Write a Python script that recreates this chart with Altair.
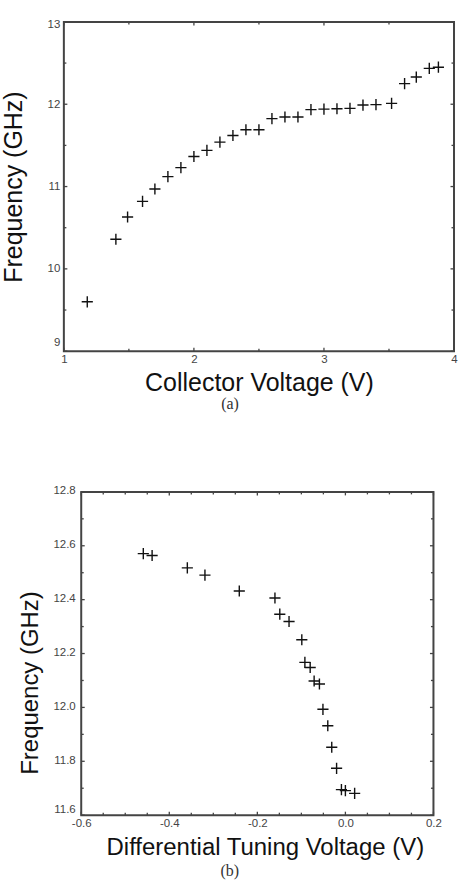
import altair as alt
import pandas as pd

# ---- panel (a): collector voltage sweep ----
a_voltage = [1.18, 1.40, 1.49, 1.605, 1.70, 1.80, 1.90, 2.00, 2.10, 2.20, 2.30, 2.40, 2.50,
             2.60, 2.70, 2.80, 2.90, 3.00, 3.10, 3.20, 3.30, 3.40, 3.52, 3.62, 3.71, 3.81, 3.88]
a_freq = [9.60, 10.36, 10.63, 10.82, 10.97, 11.12, 11.23, 11.365, 11.44, 11.54, 11.62, 11.69, 11.69,
          11.825, 11.845, 11.845, 11.935, 11.94, 11.945, 11.95, 11.99, 11.995, 12.01, 12.25, 12.33,
          12.435, 12.45]
a_x_labels = [1, 2, 3, 4]
a_x_minor = [1.5, 2.5, 3.5]
a_y_labels = [9, 10, 11, 12, 13]
a_y_minor = [9.5, 10.5, 11.5, 12.5]

# ---- panel (b): differential tuning voltage sweep ----
b_voltage = [-0.459, -0.439, -0.359, -0.319, -0.241, -0.160, -0.149, -0.128, -0.099, -0.092,
             -0.080, -0.071, -0.059, -0.051, -0.040, -0.031, -0.020, -0.009, 0.000, 0.021]
b_freq = [12.571, 12.564, 12.518, 12.491, 12.432, 12.406, 12.346, 12.319, 12.251, 12.167,
          12.148, 12.098, 12.087, 11.993, 11.932, 11.852, 11.774, 11.695, 11.691, 11.681]
b_x_labels = [-0.6, -0.4, -0.2, 0.0, 0.2]
b_x_minor = [-0.55, -0.5, -0.45, -0.35, -0.3, -0.25, -0.15, -0.1, -0.05, 0.05, 0.1, 0.15]
b_y_labels = [11.6, 11.8, 12.0, 12.2, 12.4, 12.6, 12.8]
b_y_minor = [11.7, 11.9, 12.1, 12.3, 12.5, 12.7]

FRAME = "#444444"
SANS = "Liberation Sans"


def tick_layers(vals, length, channel, scale, axis, X0, W, H):
    df = pd.DataFrame({channel: vals})
    base = alt.Chart(df).mark_rule(color=FRAME, strokeWidth=1.3)
    out = []
    if channel == "x":
        enc = alt.X("x:Q", scale=scale, axis=axis)
        out.append(base.encode(x=enc, y=alt.value(H), y2=alt.value(H - length)))
        out.append(base.encode(x=enc, y=alt.value(0), y2=alt.value(length)))
    else:
        enc = alt.Y("y:Q", scale=scale, axis=axis)
        out.append(base.encode(y=enc, x=alt.value(X0), x2=alt.value(X0 + length)))
        out.append(base.encode(y=enc, x=alt.value(W), x2=alt.value(W - length)))
    return out


def panel(xs, ys, xdom, ydom, xlab, xminor, ylab, yminor, X0, W, H, xtitle, ytitle,
          xlabel_expr, ylabel_expr, y_offset_cond, xkw, ykw, caption, cap_kw):
    # X0: left inset of the plot frame inside the view (view spans 0..W)
    xscale = alt.Scale(domain=xdom, nice=False, zero=False, range=[X0, W])
    yscale = alt.Scale(domain=ydom, nice=False, zero=False)
    xaxis = alt.Axis(values=xlab, labelExpr=xlabel_expr, domain=False, ticks=False, grid=False,
                     labelFont=SANS, labelFontSize=11.5, labelColor="#444444",
                     labelFlush=False, labelOverlap=False,
                     title=xtitle, titleFont=SANS, titleFontWeight="normal",
                     titleColor="#111111", **xkw)
    yaxis = alt.Axis(values=ylab, labelExpr=ylabel_expr, domain=False, ticks=False, grid=False,
                     labelFont=SANS, labelFontSize=11.5, labelColor="#444444",
                     labelFlush=False, labelOverlap=False, labelOffset=y_offset_cond,
                     offset=-X0,
                     title=ytitle, titleFont=SANS, titleFontWeight="normal",
                     titleColor="#111111", **ykw)
    frame = alt.Chart(pd.DataFrame({"f": [0]})).mark_rect(
        filled=False, stroke=FRAME, strokeWidth=2
    ).encode(x=alt.value(X0), x2=alt.value(W), y=alt.value(0), y2=alt.value(H))
    pts = alt.Chart(pd.DataFrame({"x": xs, "y": ys})).mark_point(
        shape="M-1,0L1,0M0,-1L0,1", size=125, filled=False, stroke="#111111",
        strokeWidth=1.4, opacity=1
    ).encode(x=alt.X("x:Q", scale=xscale, axis=xaxis),
             y=alt.Y("y:Q", scale=yscale, axis=yaxis))
    layers = [pts, frame]
    layers += tick_layers(xlab, 3.5, "x", xscale, xaxis, X0, W, H)
    layers += tick_layers(xminor, 2.5, "x", xscale, xaxis, X0, W, H)
    layers += tick_layers(ylab, 3.5, "y", yscale, yaxis, X0, W, H)
    layers += tick_layers(yminor, 2.5, "y", yscale, yaxis, X0, W, H)
    return alt.layer(*layers).properties(
        width=W, height=H,
        title=alt.TitleParams(text=caption, orient="bottom", anchor="middle",
                              font="Liberation Serif", fontSize=16, fontWeight="normal",
                              color="#333333", **cap_kw)
    )


top = panel(
    a_voltage, a_freq, [1, 4], [9, 13], a_x_labels, a_x_minor, a_y_labels, a_y_minor,
    0, 391, 330, "Collector Voltage (V)", "Frequency (GHz)",
    "format(datum.value, 'd')", "format(datum.value, 'd')",
    {"condition": [{"test": "datum.value > 12.9", "value": 2.5},
                   {"test": "datum.value < 9.1", "value": -9}], "value": 0},
    dict(labelPadding=2, titleFontSize=25, titlePadding=6),
    dict(labelPadding=4, titleFontSize=25, titlePadding=21),
    "(a)", dict(offset=0, dx=-29),
)

bottom = panel(
    b_voltage, b_freq, [-0.6, 0.2], [11.6, 12.8], b_x_labels, b_x_minor, b_y_labels, b_y_minor,
    17.4, 370.4, 324, "Differential Tuning Voltage (V)", "Frequency (GHz)",
    "datum.value < -0.001 ? '-' + format(-datum.value, '.1f') : format(abs(datum.value), '.1f')",
    "format(datum.value, '.1f')",
    {"condition": [{"test": "datum.value < 11.65", "value": -6}], "value": -1},
    dict(labelPadding=2.5, titleFontSize=24, titlePadding=6, titleX=201.4),
    dict(labelPadding=6, titleFontSize=24, titlePadding=10, titleY=191),
    "(b)", dict(offset=4, dx=-19),
)

chart = alt.vconcat(top, bottom, spacing=72).properties(
    padding={"left": 0, "top": 17, "right": 0, "bottom": 0},
    background="white",
).configure_view(stroke="transparent")

chart.save("out.html", embed_options={"renderer": "svg", "actions": False})
